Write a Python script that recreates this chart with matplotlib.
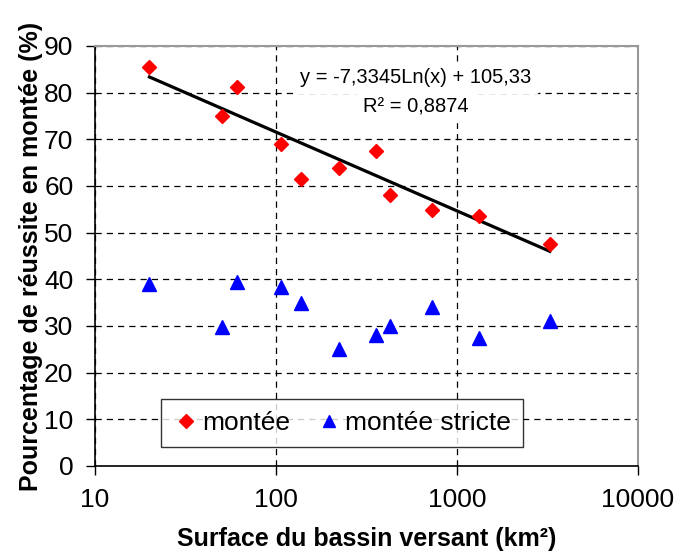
import numpy as np
import matplotlib.pyplot as plt

plt.rcParams['font.family'] = ['Liberation Sans', 'DejaVu Sans']

# surface du bassin versant (km2)
surface = [20, 50.5, 61, 106, 137, 224, 359, 424, 731, 1315, 3258]
montee = [85.4, 75.1, 81.3, 69.0, 61.6, 63.8, 67.6, 58.1, 54.9, 53.6, 47.6]
montee_stricte = [39.1, 29.8, 39.5, 38.3, 35.0, 25.0, 28.1, 30.1, 34.0, 27.5, 31.1]

# tendance log donnee par Excel
a, b = -7.3345, 105.33
eq_txt = "y = -7,3345Ln(x) + 105,33"
r2_txt = "R² = 0,8874"

xticks = [10, 100, 1000, 10000]
yticks = np.arange(0, 91, 10)

fig = plt.figure(figsize=(6.75, 5.56), dpi=100)
ax = fig.add_axes([0.1407, 0.1619, 0.8045, 0.7554])

ax.set_xscale('log')
ax.set_xlim(10, 10000)
ax.set_ylim(0, 90)

xs = np.linspace(min(surface), max(surface), 200)
ax.plot(xs, a*np.log(xs) + b, color='black', lw=2.3, zorder=3)

ax.plot(surface, montee, 'D', color='#ff0000', ms=7.5, mec='#ff0000',
        label='montée', zorder=4)
ax.plot(surface, montee_stricte, '^', color='#0000ff', ms=9.5, mec='#0000ff',
        label='montée stricte', zorder=4)

ax.set_xticks(xticks)
ax.set_xticklabels([str(t) for t in xticks])
ax.minorticks_off()
ax.set_yticks(yticks)
ax.tick_params(axis='both', labelsize=19, direction='out', length=6.5, width=1)
ax.tick_params(axis='x', pad=9)
ax.tick_params(axis='y', pad=9)

ax.grid(True, which='major', color='black', linestyle=(0, (5, 4)), lw=0.9)
ax.set_axisbelow(True)

for s in ['top', 'right']:
    ax.spines[s].set_color('#999999')
    ax.spines[s].set_linewidth(1.5)
for s in ['left', 'bottom']:
    ax.spines[s].set_color('black')
    ax.spines[s].set_linewidth(1.2)

ax.text(0.59, 0.9245, eq_txt, transform=ax.transAxes, ha='center', va='center',
        fontsize=14.5, backgroundcolor='white', zorder=5)
ax.text(0.59, 0.855, r2_txt, transform=ax.transAxes, ha='center', va='center',
        fontsize=14.5, backgroundcolor='white', zorder=5)

ax.set_xlabel('Surface du bassin versant (km²)', fontsize=18, fontweight='bold',
              labelpad=11)
ax.set_ylabel('Pourcentage de réussite en montée (%)', fontsize=18,
              fontweight='bold', labelpad=1)

leg = ax.legend(loc='lower left', bbox_to_anchor=(0.1215, 0.045), ncol=2,
                fontsize=19, frameon=True, fancybox=False, edgecolor='black',
                borderaxespad=0, handletextpad=0.1, columnspacing=1.0,
                handlelength=1.0, borderpad=0.45, markerscale=0.95)
leg.get_frame().set_linewidth(1.0)

fig.savefig('out.png', dpi=100)
